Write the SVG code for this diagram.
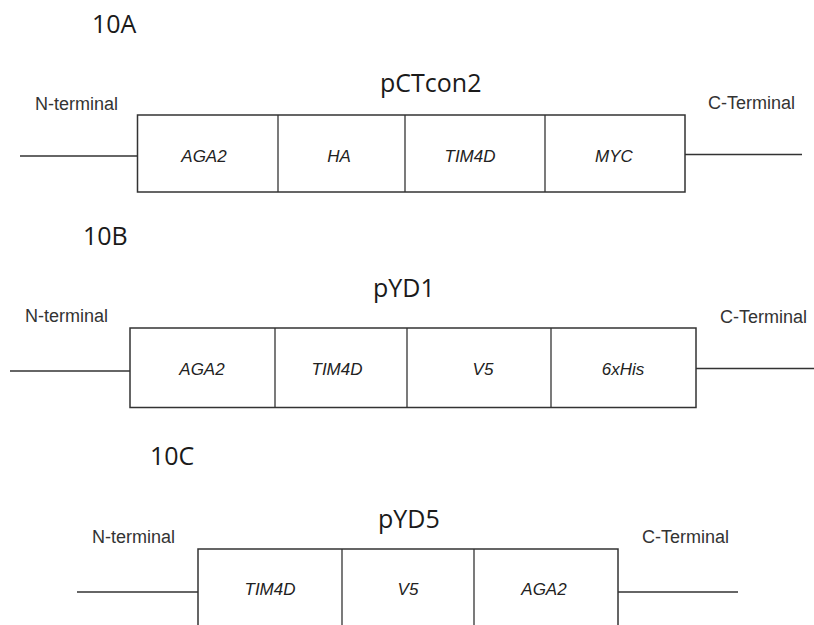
<svg xmlns="http://www.w3.org/2000/svg" width="814" height="625" viewBox="0 0 814 625">
<style>
.bg{fill:#ffffff}
.box{fill:#ffffff;stroke:#333333;stroke-width:1.5}
.div{stroke:#333333;stroke-width:1.3}
.conn{stroke:#333333;stroke-width:1.5;fill:none}
.head{font-family:"Open Sans",sans-serif;font-size:25px;fill:#1a1a1a}
.term{font-family:"Liberation Sans",Arial,sans-serif;font-size:18px;fill:#333333}
.dom{font-family:"Liberation Sans",Arial,sans-serif;font-size:17px;font-style:italic;fill:#222222;text-anchor:middle}
</style>
<rect class="bg" x="0" y="0" width="814" height="625"/>

<g id="connectors">
  <line class="conn" x1="20" y1="156" x2="137.5" y2="156"/>
  <line class="conn" x1="685" y1="154.5" x2="802" y2="154.5"/>
  <line class="conn" x1="10" y1="371" x2="130" y2="371"/>
  <line class="conn" x1="696" y1="368.5" x2="814" y2="368.5"/>
  <line class="conn" x1="77" y1="592" x2="198" y2="592"/>
  <line class="conn" x1="618" y1="592" x2="738" y2="592"/>
</g>

<g id="panel-10A">
  <text class="head" x="92" y="33">10A</text>
  <text class="head" x="380" y="92">pCTcon2</text>
  <text class="term" x="35" y="110">N-terminal</text>
  <text class="term" x="708" y="109">C-Terminal</text>
  <g id="pCTcon2-construct">
    <rect class="box" x="137.5" y="115" width="547.5" height="77"/>
    <line class="div" x1="278" y1="115" x2="278" y2="192"/>
    <line class="div" x1="405" y1="115" x2="405" y2="192"/>
    <line class="div" x1="545" y1="115" x2="545" y2="192"/>
  </g>
  <g id="A-AGA2"><text class="dom" x="204" y="162">AGA2</text></g>
  <g id="A-HA"><text class="dom" x="339" y="162">HA</text></g>
  <g id="A-TIM4D"><text class="dom" x="470" y="162">TIM4D</text></g>
  <g id="A-MYC"><text class="dom" x="614" y="162">MYC</text></g>
</g>

<g id="panel-10B">
  <text class="head" x="83" y="245">10B</text>
  <text class="head" x="373" y="297">pYD1</text>
  <text class="term" x="25" y="322">N-terminal</text>
  <text class="term" x="720" y="323">C-Terminal</text>
  <g id="pYD1-construct">
    <rect class="box" x="130" y="328" width="566" height="79.5"/>
    <line class="div" x1="275" y1="328" x2="275" y2="407.5"/>
    <line class="div" x1="407" y1="328" x2="407" y2="407.5"/>
    <line class="div" x1="551" y1="328" x2="551" y2="407.5"/>
  </g>
  <g id="B-AGA2"><text class="dom" x="202" y="375">AGA2</text></g>
  <g id="B-TIM4D"><text class="dom" x="337" y="375">TIM4D</text></g>
  <g id="B-V5"><text class="dom" x="483" y="375">V5</text></g>
  <g id="B-6xHis"><text class="dom" x="623" y="375">6xHis</text></g>
</g>

<g id="panel-10C">
  <text class="head" x="150" y="465">10C</text>
  <text class="head" x="378" y="528">pYD5</text>
  <text class="term" x="92" y="543">N-terminal</text>
  <text class="term" x="642" y="543">C-Terminal</text>
  <g id="pYD5-construct">
    <rect class="box" x="198" y="549" width="420" height="90"/>
    <line class="div" x1="342" y1="549" x2="342" y2="625"/>
    <line class="div" x1="474" y1="549" x2="474" y2="625"/>
  </g>
  <g id="C-TIM4D"><text class="dom" x="270" y="595">TIM4D</text></g>
  <g id="C-V5"><text class="dom" x="408" y="595">V5</text></g>
  <g id="C-AGA2"><text class="dom" x="544" y="595">AGA2</text></g>
</g>
</svg>
